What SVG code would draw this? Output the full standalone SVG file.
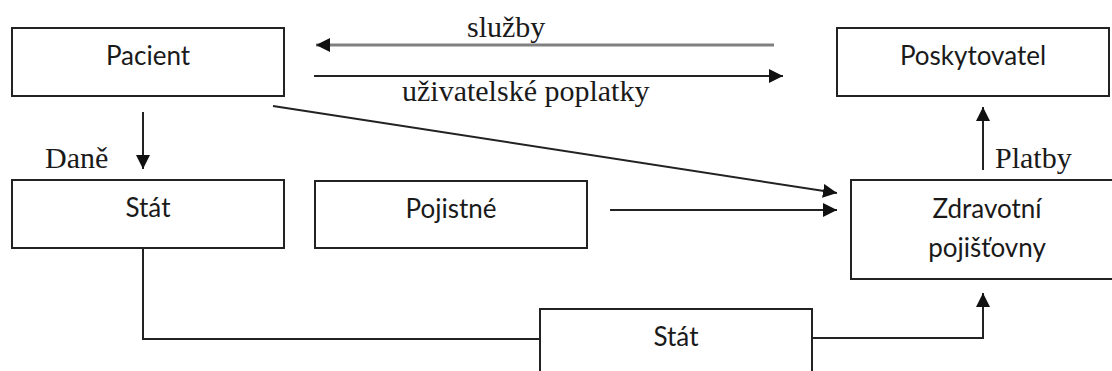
<svg xmlns="http://www.w3.org/2000/svg" width="1112" height="371" viewBox="0 0 1112 371">
  <style>
    .box { fill: #ffffff; stroke: #222222; stroke-width: 2; }
    .label { font-family: Lato, "Open Sans", sans-serif; font-size: 26px; fill: #1a1a1a; text-anchor: middle; }
    .flow { font-family: "Liberation Serif", serif; font-size: 30px; fill: #1a1a1a; }
    .wire { fill: none; stroke: #222222; stroke-width: 2; }
    .wire-grey { fill: none; stroke: #808080; stroke-width: 3; }
  </style>
  <defs>
    <marker id="head" markerUnits="userSpaceOnUse" markerWidth="16" markerHeight="14" refX="14" refY="7" orient="auto">
      <path d="M0,0 L14,7 L0,14 Z" fill="#111111"/>
    </marker>
  </defs>

  <rect width="1112" height="371" fill="#ffffff"/>

  <!-- connectors -->
  <g id="connectors">
    <line class="wire-grey" x1="774" y1="45" x2="316" y2="45" marker-end="url(#head)"/>
    <line class="wire" x1="314" y1="76" x2="783" y2="76" marker-end="url(#head)"/>
    <line class="wire" x1="143" y1="112" x2="143" y2="169" marker-end="url(#head)"/>
    <line class="wire" x1="273" y1="106" x2="837" y2="193" marker-end="url(#head)"/>
    <line class="wire" x1="610" y1="210" x2="837" y2="210" marker-end="url(#head)"/>
    <line class="wire" x1="983" y1="170" x2="983" y2="107" marker-end="url(#head)"/>
    <polyline class="wire" points="143,248 143,339 540,339"/>
    <polyline class="wire" points="812,338 983,338 983,293" marker-end="url(#head)"/>
    <text class="flow" x="467" y="37">služby</text>
    <text class="flow" x="402" y="101">uživatelské poplatky</text>
    <text class="flow" x="45" y="168">Daně</text>
    <text class="flow" x="995" y="168">Platby</text>
  </g>

  <!-- nodes -->
  <g id="pacient">
    <rect class="box" x="12" y="28" width="272" height="68"/>
    <text class="label" x="148" y="65">Pacient</text>
  </g>
  <g id="poskytovatel">
    <rect class="box" x="837" y="28" width="272" height="68"/>
    <text class="label" x="973" y="65">Poskytovatel</text>
  </g>
  <g id="stat">
    <rect class="box" x="12" y="180" width="272" height="68"/>
    <text class="label" x="148" y="217">Stát</text>
  </g>
  <g id="pojistne">
    <rect class="box" x="315" y="181" width="272" height="67"/>
    <text class="label" x="451" y="218">Pojistné</text>
  </g>
  <g id="zdravotni-pojistovny">
    <rect class="box" x="851" y="180" width="272" height="99"/>
    <text class="label" x="987" y="218">Zdravotní</text>
    <text class="label" x="987" y="257">pojišťovny</text>
  </g>
  <g id="stat-2">
    <rect class="box" x="540" y="309" width="272" height="80"/>
    <text class="label" x="676" y="346">Stát</text>
  </g>
</svg>
